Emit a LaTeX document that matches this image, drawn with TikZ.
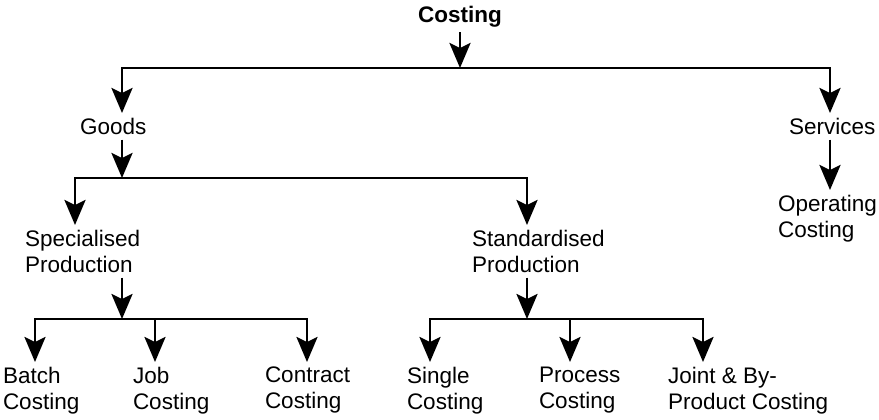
\documentclass[tikz,border=0pt]{standalone}
\usepackage{fontspec}
\setmainfont{Liberation Sans}
\usetikzlibrary{arrows.meta,positioning}
\tikzset{item/.style={font=\fontsize{22.5}{26}\selectfont, align=left,
    inner xsep=0pt, inner ysep=5pt, outer sep=0pt, anchor=north west},
  head/.style={item, anchor=north, font=\bfseries\fontsize{22.5}{26}\selectfont}
}

\begin{document}
\begin{tikzpicture}[x=1pt, y=-1pt, line width=2.8pt,
    > = {Stealth[length=25pt,width=21pt,inset=5pt]}]
    \useasboundingbox (0,0) rectangle (879,420);

    \node[head] (costing)  at (460,1)   {Costing};
    \node[item] (goods)    at (80,113)  {Goods};
    \node[item] (services) at (789,113) {Services};
    \node[item] (oper)     at (778,190) {Operating\\Costing};
    \node[item] (spec)     at (25,225)  {Specialised\\Production};
    \node[item] (stand)    at (472,225) {Standardised\\Production};
    \node[item] (batch)    at (3,362)   {Batch\\Costing};
    \node[item] (job)      at (133,362) {Job\\Costing};
    \node[item] (contract) at (265,362) {Contract\\Costing};
    \node[item] (single)   at (407,362) {Single\\Costing};
    \node[item] (process)  at (539,362) {Process\\Costing};
    \node[item] (joint)    at (668,362) {Joint \& By-\\Product Costing};

    % branch points
    \coordinate (top_m)   at (460,68);
    \coordinate (top_l)   at (122,68);
    \coordinate (top_r)   at (830,68);
    \coordinate (goods_l) at (75,178);
    \coordinate (goods_m) at (122,178);
    \coordinate (goods_r) at (527,178);
    \coordinate (spec_l)  at (35,319);
    \coordinate (spec_m)  at (122,319);
    \coordinate (spec_c)  at (155,319);
    \coordinate (spec_r)  at (307,319);
    \coordinate (stand_l) at (430,319);
    \coordinate (stand_m) at (527,319);
    \coordinate (stand_c) at (570,319);
    \coordinate (stand_r) at (703,319);

    \draw[->] (costing.south) -- (top_m);
    \draw[<->] (goods.north -| top_l) -- (top_l) -- (top_r) -- (services.north -| top_r);
    \draw[->] (services.south -| top_r) -- (oper.north -| top_r);

    \draw[->] (goods.south -| goods_m) -- (goods_m);
    \draw[<->] (spec.north -| goods_l) -- (goods_l) -- (goods_r) -- (stand.north -| goods_r);

    \draw[->] (spec.south -| spec_m) -- (spec_m);
    \draw[<->] (batch.north -| spec_l) -- (spec_l) -- (spec_r) -- (contract.north -| spec_r);
    \draw[->] (spec_c) -- (job.north -| spec_c);

    \draw[->] (stand.south -| stand_m) -- (stand_m);
    \draw[<->] (single.north -| stand_l) -- (stand_l) -- (stand_r) -- (joint.north -| stand_r);
    \draw[->] (stand_c) -- (process.north -| stand_c);
\end{tikzpicture}
\end{document}
